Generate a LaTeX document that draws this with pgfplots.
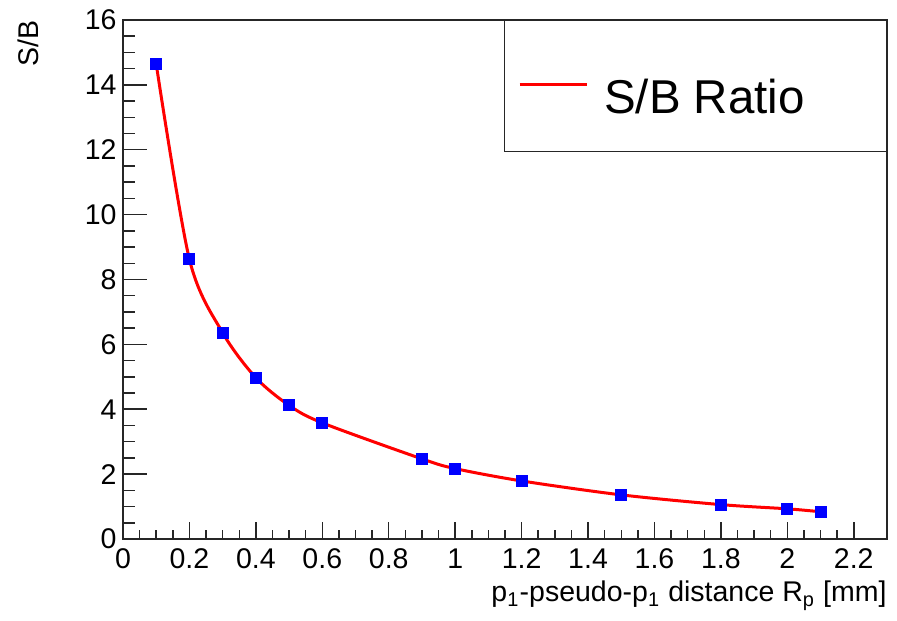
\documentclass[border=0pt]{standalone}
\usepackage{fontspec}
\setmainfont{Liberation Sans}
\usepackage{pgfplots}
\usepackage{pgfplotstable}
\pgfplotsset{compat=1.18}

% S/B ratio vs distance R_p
\pgfplotstableread{
x y
0.1 14.64
0.2 8.62
0.3 6.36
0.4 4.97
0.5 4.12
0.6 3.58
0.9 2.47
1.0 2.17
1.2 1.79
1.5 1.36
1.8 1.06
2.0 0.93
2.1 0.84
}\sbratio

\begin{document}
\begin{tikzpicture}
\begin{axis}[
scale only axis,
width=305.6pt, height=207.6pt,
xmin=0, xmax=2.3,
ymin=0, ymax=16,
xtick={0,0.2,0.4,0.6,0.8,1,1.2,1.4,1.6,1.8,2,2.2},
ytick={0,2,4,6,8,10,12,14,16},
minor x tick num=3,
minor y tick num=3,
scaled ticks=false,
tick align=inside,
xtick pos=bottom,
ytick pos=left,
axis line style={line width=0.6pt, black!85},
tick style={line width=0.6pt, black!85},
xtick style={/pgfplots/major tick length=6.8pt, /pgfplots/minor tick length=3.6pt},
ytick style={/pgfplots/major tick length=9.6pt, /pgfplots/minor tick length=4.8pt},
/pgf/number format/assume math mode=true,
ticklabel style={font=\fontsize{11.4}{13}\selectfont, inner sep=0pt},
xticklabel style={yshift=-3.6pt},
yticklabel style={xshift=-2.4pt},
xlabel={p\textsubscript{1}-pseudo-p\textsubscript{1} distance R\textsubscript{p} [mm]},
ylabel={S/B},
label style={font=\fontsize{11.4}{13}\selectfont, inner sep=0pt},
xlabel style={at={(rel axis cs:1,0)}, anchor=base east, yshift=-25.2pt},
ylabel style={at={(axis description cs:-0.1243,1)}, anchor=east},
legend style={at={(rel axis cs:1,1)}, anchor=north east, draw=black!85,
  line width=0.5pt, inner xsep=5.6pt, inner ysep=0pt, column sep=6.4pt,
  nodes={inner sep=0pt, text height=37.2pt, text depth=15.2pt,
    font=\fontsize{19}{22}\selectfont}},
legend image code/.code={\draw[red, line width=1.2pt] (0pt,0.6pt) -- (26.8pt,0.6pt);},
]
\addplot[red, line width=1.2pt, smooth, no markers] table[x=x, y=y] {\sbratio};
\addlegendentry{S/B Ratio\rule{27pt}{0pt}}
\addplot[only marks, mark=square*, mark size=2.2pt, blue, forget plot] table[x=x, y=y] {\sbratio};
\end{axis}
\pgfresetboundingbox
\path ([shift={(-49.2pt,-32.8pt)}]current axis.south west) rectangle ([shift={(4pt,8pt)}]current axis.north east);
\end{tikzpicture}
\end{document}
